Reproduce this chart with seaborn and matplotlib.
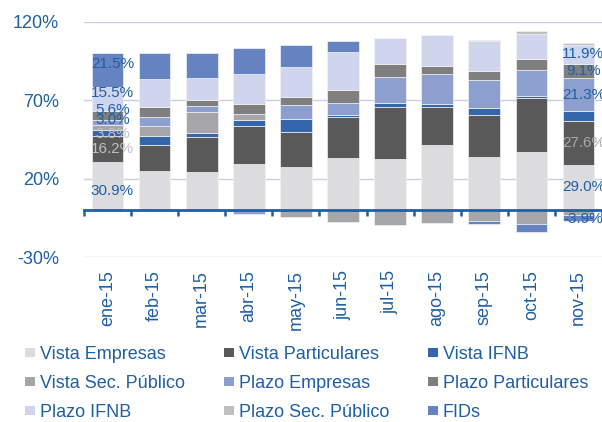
import numpy as np
import pandas as pd
import matplotlib
matplotlib.use("Agg")
import matplotlib.pyplot as plt
from matplotlib.patches import Patch
import seaborn as sns

# ---- data (% of total) ----
months = ["ene-15", "feb-15", "mar-15", "abr-15", "may-15", "jun-15",
          "jul-15", "ago-15", "sep-15", "oct-15", "nov-15"]

vista_empresas      = [30.9, 24.9, 24.6, 29.4, 27.8, 33.2, 32.5, 41.7, 33.6, 37.0, 29.0]
vista_particulares  = [16.2, 16.6, 22.0, 23.9, 21.9, 26.1, 33.2, 24.0, 26.7, 34.4, 27.6]
vista_ifnb          = [3.8, 5.9, 2.3, 4.2, 8.5, 1.0, 2.8, 1.9, 4.7, 1.4, 6.3]
vista_sec_publico   = [3.5, 5.9, 13.6, 3.9, -4.5, -7.6, -9.5, -8.2, -7.2, -8.9, -3.0]
plazo_empresas      = [3.0, 6.2, 4.0, -2.5, 8.5, 7.9, 16.5, 19.3, 18.1, 16.6, 21.3]
plazo_particulares  = [5.6, 6.2, 3.4, 6.2, 5.3, 8.5, 8.2, 5.1, 5.3, 7.0, 9.1]
plazo_ifnb          = [15.5, 18.0, 14.2, 19.0, 18.9, 24.0, 16.2, 19.7, 19.1, 16.0, 11.9]
plazo_sec_publico   = [0.0, 0.0, 0.0, 0.0, 0.0, 0.0, 0.0, 0.0, 0.9, 1.4, 1.0]
fids                = [21.5, 16.3, 15.9, 16.6, 14.0, 7.2, 0.0, 0.0, -1.3, -4.8, -3.9]

series_names = ["Vista Empresas", "Vista Particulares", "Vista IFNB",
                "Vista Sec. Público", "Plazo Empresas", "Plazo Particulares",
                "Plazo IFNB", "Plazo Sec. Público", "FIDs"]
series_values = [vista_empresas, vista_particulares, vista_ifnb,
                 vista_sec_publico, plazo_empresas, plazo_particulares,
                 plazo_ifnb, plazo_sec_publico, fids]
series_colors = ["#dcdcde", "#595959", "#3366aa", "#a6a6a8", "#8c9fcf",
                 "#7f7f7f", "#cfd5ec", "#bfbfbf", "#6683c1"]

y_ticks = [-30, 20, 70, 120]

# segments carrying a value label: (month index, series index, color, dy in points)
BLUE = "#1f5fa5"
LIGHT = "#c0c0c0"
value_labels = [
    (0, 0, BLUE, -3.6), (0, 1, LIGHT, 0.0), (0, 2, LIGHT, -0.7),
    (0, 4, BLUE, 1.9), (0, 5, BLUE, 4.3), (0, 6, BLUE, 4.3), (0, 8, BLUE, 4.3),
    (10, 0, BLUE, 0.0), (10, 1, "#a8a8a8", 0.0), (10, 4, BLUE, 0.0),
    (10, 5, BLUE, 0.0), (10, 6, BLUE, 0.0), (10, 8, BLUE, -1.0),
]

# ---- style ----
sns.set_theme(style="white")
plt.rcParams["font.family"] = ["Liberation Sans", "DejaVu Sans"]

fig = plt.figure(figsize=(6.02, 4.22), dpi=100)
ax = fig.add_axes([84 / 602, 1 - 257.3 / 422, 518 / 602, (257.3 - 21.7) / 422])

n = len(months)
pos_base = np.zeros(n)
neg_base = np.zeros(n)
centers = {}
for si, (name, vals, col) in enumerate(zip(series_names, series_values, series_colors)):
    v = np.asarray(vals, dtype=float)
    bottoms = np.where(v >= 0, pos_base, neg_base)
    df = pd.DataFrame({"mes": months, "valor": v})
    sns.barplot(data=df, x="mes", y="valor", bottom=bottoms, color=col,
                saturation=1, width=0.67, errorbar=None, ax=ax,
                edgecolor="#f2f2f6", linewidth=0.5)
    for mi in range(n):
        centers[(mi, si)] = bottoms[mi] + v[mi] / 2
    pos_base = pos_base + np.where(v > 0, v, 0)
    neg_base = neg_base + np.where(v < 0, v, 0)

for mi, si, col, dy in value_labels:
    val = series_values[si][mi]
    ax.annotate(f"{val:.1f}%", xy=(mi, centers[(mi, si)]), xytext=(3.5, dy),
                textcoords="offset points", ha="center", va="center",
                fontsize=11, color=col, annotation_clip=False)

# ---- axes ----
ax.set_xlim(-0.5, n - 0.5)
ax.set_ylim(y_ticks[0], y_ticks[-1])
ax.set_yticks(y_ticks, labels=[f"{t}%" for t in y_ticks])
ax.tick_params(axis="y", length=0, pad=18, labelsize=13, labelcolor=BLUE)
ax.set_axisbelow(True)
ax.yaxis.grid(True, color="#c8cfe8", linewidth=1)
ax.xaxis.grid(False)
ax.set_xlabel("")
ax.set_ylabel("")
for side in ("left", "right", "top"):
    ax.spines[side].set_visible(False)
ax.spines["bottom"].set_position(("data", 0))
ax.spines["bottom"].set_color(BLUE)
ax.spines["bottom"].set_linewidth(2)
ax.spines["bottom"].set_zorder(3)
ax.set_xticks(np.arange(n))
ax.set_xticks(np.arange(-0.5, n), minor=True)
ax.tick_params(axis="x", which="major", length=0, labelbottom=False)
ax.tick_params(axis="x", which="minor", length=4, width=1.8, color=BLUE,
               direction="out", bottom=True)

sec = ax.secondary_xaxis(0)
sec.set_xticks(np.arange(n), labels=months, rotation=90)
sec.tick_params(length=0, pad=9, labelsize=13, labelcolor=BLUE)
sec.spines["bottom"].set_visible(False)

# ---- legend (row-major order over three columns) ----
handles = [Patch(facecolor=c, edgecolor="none", label=l)
           for l, c in zip(series_names, series_colors)]
order = [0, 3, 6, 1, 4, 7, 2, 5, 8]
fig.legend(handles=[handles[i] for i in order], loc="upper left",
           bbox_to_anchor=(25 / 602, 1 - 346 / 422), ncol=3, frameon=False,
           fontsize=13, labelcolor=BLUE, handlelength=0.55, handleheight=0.4,
           handletextpad=0.28, columnspacing=2.15, labelspacing=0.66,
           borderpad=0, borderaxespad=0)

fig.savefig("out.png", dpi=100)
